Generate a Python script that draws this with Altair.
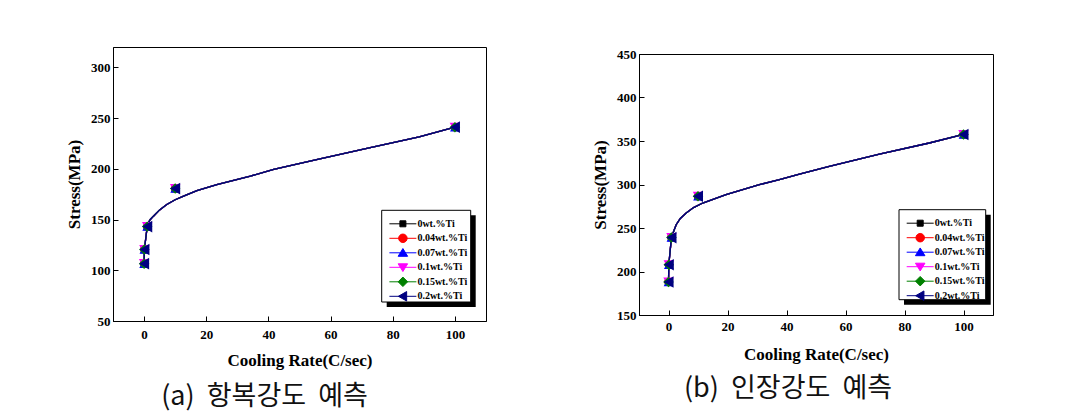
import altair as alt
import pandas as pd

# ---- data ----
series = ["0wt.%Ti", "0.04wt.%Ti", "0.07wt.%Ti", "0.1wt.%Ti", "0.15wt.%Ti", "0.2wt.%Ti"]
colors = ["#000000", "#ff0000", "#0000ff", "#ff00ff", "#008000", "#000080"]
shapes = ["square", "circle", "triangle-up", "triangle-down", "diamond", "triangle-left"]
marker_sizes = [55, 70, 95, 110, 110, 135]

rate = [0.01, 0.1, 1, 10, 100]
yield_stress = [106.5, 120.5, 143, 180.5, 241]
tensile_stress = [188, 207.8, 239, 286.5, 357.5]

yield_fit_x = [0.01, 0.1, 1, 1.5, 2, 3, 5, 7.3, 10, 12.7, 17, 23.4, 34.2, 41.7, 56.2, 72.4, 88.5, 100]
yield_fit_y = [106.5, 120.5, 143, 147.5, 150, 153.3, 159.5, 164.8, 169.5, 173, 178.5, 184.5, 192.7, 199.5, 209.5, 220.5, 231.5, 241]

tensile_fit_x = [0.01, 0.1, 1, 1.5, 2.6, 4, 6, 8.5, 11.6, 19.5, 30.8, 37.6, 44.4, 54.5, 71.5, 88.4, 100]
tensile_fit_y = [188, 207.8, 239, 244, 253.8, 261, 267.2, 273.5, 278.7, 288.3, 299.8, 305.5, 312, 320.8, 335, 347.7, 357.5]

# legend symbols: a short line with the marker on it (unit path coordinates)
LINE = "M-2.7,0H2.7"
legend_paths = [
    LINE + "M-0.6,-0.6H0.6V0.6H-0.6Z",
    LINE + "M-0.85,0A0.85,0.85,0,1,1,0.85,0A0.85,0.85,0,1,1,-0.85,0Z",
    LINE + "M0,-0.85L0.95,0.7H-0.95Z",
    LINE + "M0,0.85L0.95,-0.7H-0.95Z",
    LINE + "M0,-0.95L0.95,0L0,0.95L-0.95,0Z",
    LINE + "M-0.9,0L0.75,-0.95V0.95Z",
]

SERIF = "Liberation Serif"
ROW = 14.5


def panel(ys, fx, fy, ydom, yticks, box, caption, dx, w, h, xlabpad, xtitlepad, capoff):
    xenc = alt.X(
        "rate:Q",
        scale=alt.Scale(domain=[-10, 110], nice=False, zero=False),
        axis=alt.Axis(values=[0, 20, 40, 60, 80, 100], title="Cooling Rate(C/sec)",
                      labelPadding=xlabpad, titlePadding=xtitlepad),
    )
    yenc = alt.Y(
        "stress:Q",
        scale=alt.Scale(domain=ydom, nice=False, zero=False),
        axis=alt.Axis(values=yticks, title="Stress(MPa)", labelPadding=8, titlePadding=7),
    )
    bx0, by0, bx1, by1 = box
    one = pd.DataFrame({"k": [0]})
    shadow = alt.Chart(one).mark_rect(fill="black").encode(
        x=alt.value(bx0 + 5), x2=alt.value(bx1 + 5),
        y=alt.value(by0 + 5), y2=alt.value(by1 + 5))
    frame = alt.Chart(one).mark_rect(fill="white", stroke="black", strokeWidth=1).encode(
        x=alt.value(bx0), x2=alt.value(bx1), y=alt.value(by0), y2=alt.value(by1))

    fit = pd.DataFrame({"rate": fx, "stress": fy})
    lines = [
        alt.Chart(fit).mark_line(color=c, strokeWidth=1.3).encode(x=xenc, y=yenc)
        for c in colors
    ]
    pts = pd.DataFrame({"rate": rate, "stress": ys})
    points = [
        alt.Chart(pts).mark_point(filled=True, shape=sh, color=c, size=sz, opacity=1)
        .encode(x=xenc, y=yenc)
        for c, sh, sz in zip(colors, shapes, marker_sizes)
    ]
    legends = []
    for i, (s, c, p) in enumerate(zip(series, colors, legend_paths)):
        leg = alt.Legend(
            title=None, orient="none", legendX=bx0 + 15.7, legendY=by0 + 8 + i * ROW,
            padding=0, symbolSize=100, symbolStrokeWidth=1, labelLimit=200,
            labelOffset=9, labelFont=SERIF, labelFontSize=10, labelFontWeight="bold",
            labelColor="black",
        )
        legends.append(
            alt.Chart(pd.DataFrame({"series": [s]}))
            .mark_point(filled=True, fill=c, stroke=c, strokeWidth=1, size=100, opacity=1)
            .encode(shape=alt.Shape("series:N", scale=alt.Scale(domain=[s], range=[p]), legend=leg))
            .transform_filter("false")
        )

    return alt.layer(shadow, frame, *lines, *points, *legends).resolve_scale(
        shape="independent"
    ).properties(
        width=w, height=h,
        title=alt.TitleParams(caption, orient="bottom", frame="group", dx=dx, offset=capoff,
                              font="Noto Sans CJK KR", fontSize=27, fontWeight="normal",
                              color="#111111"),
    )


NB = "\u00a0"
left = panel(yield_stress, yield_fit_x, yield_fit_y, [50, 320],
             [50, 100, 150, 200, 250, 300], (268.7, 163.3, 357.7, 255),
             "(a)" + NB + " 항복강도" + NB + " 예측", -35, 373, 274, 12, 11, 16)
right = panel(tensile_stress, tensile_fit_x, tensile_fit_y, [150, 450],
              [150, 200, 250, 300, 350, 400, 450], (260, 155.7, 346.7, 245.7),
              "(b)" + NB + " 인장강도" + NB + " 예측", -28, 354, 261, 10.5, 13, 13)

# invisible 1px strip that drops the right panel a few pixels below the left one
spacer = alt.Chart(pd.DataFrame({"k": [0]})).mark_point(opacity=0, size=0).encode(
    x=alt.value(0), y=alt.value(0)
).properties(width=1, height=1, view=alt.ViewBackground(stroke="transparent"))

chart = alt.concat(left, alt.vconcat(spacer, right, spacing=-2), columns=2, spacing=104).properties(
    padding={"left": 57, "top": 38, "right": 5, "bottom": 5}
).configure_view(stroke="black", strokeWidth=1).configure_axis(
    labelFont=SERIF, labelFontSize=13, labelFontWeight="bold", labelColor="black",
    titleFont=SERIF, titleFontSize=17, titleFontWeight="bold", titleColor="black",
    domainColor="black", tickColor="black", grid=False,
    tickSize={"expr": "-5"},
)

chart.save("out.html", embed_options={"renderer": "svg", "actions": False})
